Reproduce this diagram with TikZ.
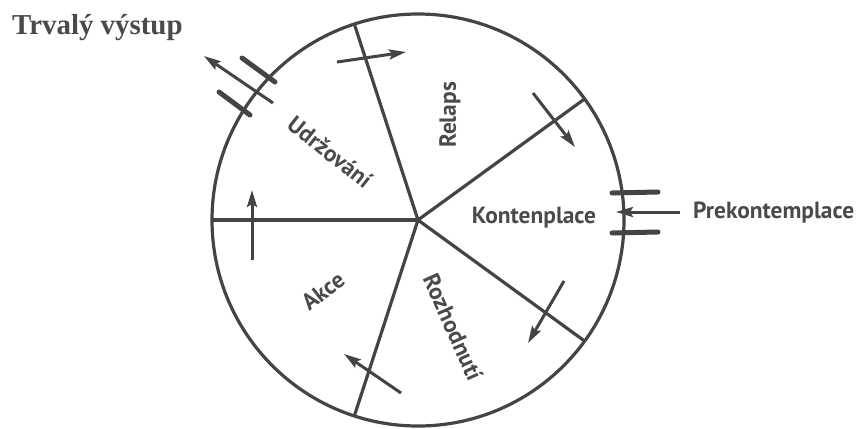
\documentclass[tikz,border=0pt]{standalone}
\usepackage{fontspec}
\usetikzlibrary{arrows.meta}
\newfontfamily\labelfont{PT Sans}
\newfontfamily\titlefont{Liberation Serif}
\definecolor{ink}{HTML}{444444}
\definecolor{txt}{HTML}{4A4A4A}
\begin{document}
\begin{tikzpicture}[x=1bp,y=-1bp,
  wheel/.style={draw=ink,line width=3.2bp},
  flow/.style={draw=ink,line width=3bp,-{Stealth[length=17bp,width=10bp,inset=3bp]}},
  tick/.style={draw=ink,line width=5bp,line cap=round},
  lbl/.style={font=\labelfont\bfseries\fontsize{23.5}{27}\selectfont,text=txt,inner sep=0pt},
  ttl/.style={font=\titlefont\bfseries\fontsize{29}{33}\selectfont,text=txt,inner sep=0pt}]
\useasboundingbox (0,0) rectangle (865,428);
\coordinate (c) at (418,220);
\draw[wheel] (c) circle[radius=206bp];
\foreach \a in {36,108,180,252,324} \draw[wheel] (c) -- ++(\a:206bp);
% labels
\node[ttl,anchor=base west] (trv) at (12,34) {Trvalý výstup};
\node[lbl,anchor=base west] (pre) at (693,218) {Prekontemplace};
\node[lbl] (kon) at (534,218) {Kontenplace};
\node[lbl,rotate=90] (rel) at (450,115) {Relaps};
\node[lbl,rotate=-38.5] (udr) at (330,152) {Udržování};
\node[lbl,rotate=38] (akc) at (323,291) {Akce};
\node[lbl,rotate=-66] (roz) at (453,327) {Rozhodnutí};
% flow arrows
\coordinate (a1s) at (337,62);  \coordinate (a1e) at (406,52);
\coordinate (a2s) at (533,93);  \coordinate (a2e) at (575,147);
\coordinate (a3s) at (564,281); \coordinate (a3e) at (528,343);
\coordinate (a4s) at (401,393); \coordinate (a4e) at (344,354);
\coordinate (a5s) at (252,260); \coordinate (a5e) at (252,190);
\draw[flow] (a1s) -- (a1e);
\draw[flow] (a2s) -- (a2e);
\draw[flow] (a3s) -- (a3e);
\draw[flow] (a4s) -- (a4e);
\draw[flow] (a5s) -- (a5e);
% exit
\coordinate (xs) at (273,103); \coordinate (xe) at (204,56);
\coordinate (xu1) at (242,58); \coordinate (xu2) at (275,82);
\coordinate (xl1) at (219,92); \coordinate (xl2) at (250,115);
\draw[tick] (xu1) -- (xu2);
\draw[tick] (xl1) -- (xl2);
\draw[flow] (xs) -- (xe);
% entry
\coordinate (es) at (680,212); \coordinate (ee) at (616,212);
\coordinate (eu1) at (612,193); \coordinate (eu2) at (658,192);
\coordinate (el1) at (612,233); \coordinate (el2) at (658,232);
\draw[tick] (eu1) -- (eu2);
\draw[tick] (el1) -- (el2);
\draw[flow] (es) -- (ee);
\end{tikzpicture}
\end{document}
